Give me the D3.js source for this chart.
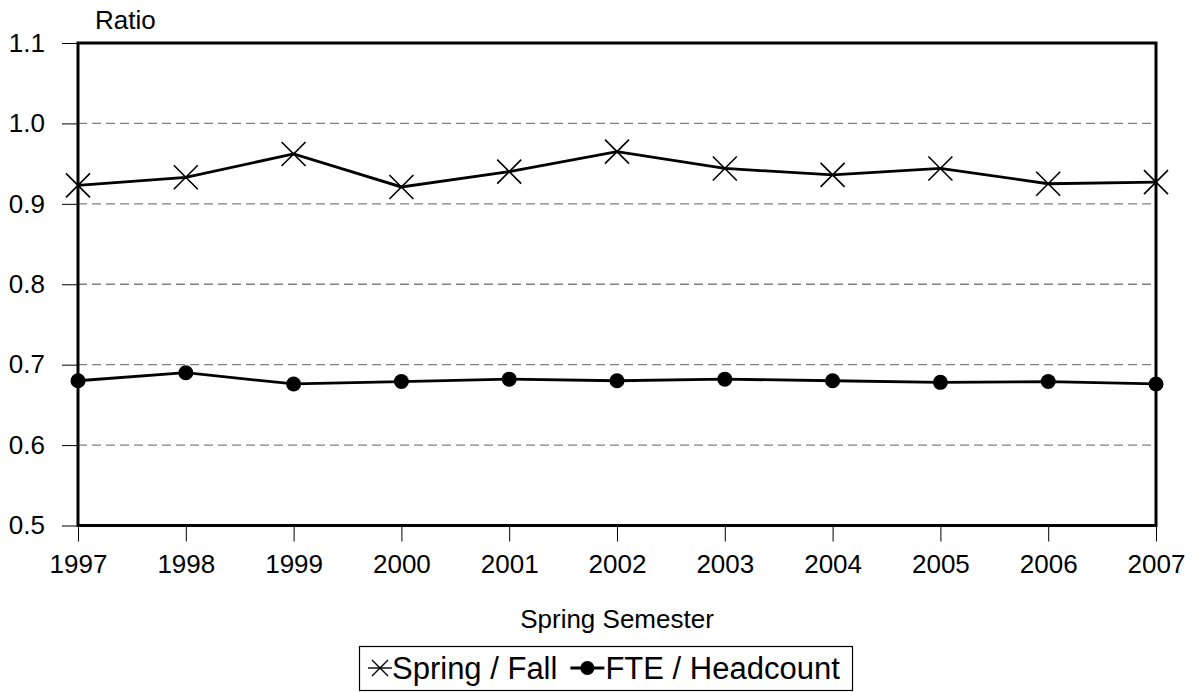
<!DOCTYPE html>
<html>
<head>
<meta charset="utf-8">
<script src="https://cdn.jsdelivr.net/npm/d3@7"></script>
<style>
  html, body { margin: 0; padding: 0; background: #fff; }
  svg { display: block; font-family: "Liberation Sans", Arial, sans-serif; }
</style>
</head>
<body>
<svg id="chart" width="1194" height="692"></svg>
<script>
const years = [1997, 1998, 1999, 2000, 2001, 2002, 2003, 2004, 2005, 2006, 2007];
const springFall = [0.923, 0.933, 0.962, 0.921, 0.940, 0.965, 0.944, 0.936, 0.944, 0.925, 0.927];
const fteHeadcount = [0.680, 0.690, 0.676, 0.679, 0.682, 0.680, 0.682, 0.680, 0.678, 0.679, 0.676];
const yTicks = [0.5, 0.6, 0.7, 0.8, 0.9, 1.0, 1.1];
const seriesNames = ["Spring / Fall", "FTE / Headcount"];
const yTitle = "Ratio";
const xTitle = "Spring Semester";

const svg = d3.select("#chart");
const L = 78, R = 1156, T = 43, B = 525.5;
const FONT = '"Liberation Sans", Arial, sans-serif';

const x = d3.scaleLinear().domain([1997, 2007]).range([L, R]);
const y = d3.scaleLinear().domain([0.5, 1.1]).range([B, T]);

// gridlines
svg.append("g").selectAll("line")
  .data(yTicks.filter(v => v > 0.5 && v < 1.1))
  .join("line")
  .attr("x1", L).attr("x2", R)
  .attr("y1", d => y(d)).attr("y2", d => y(d))
  .attr("stroke", "#808080").attr("stroke-width", 1.3)
  .attr("stroke-dasharray", "9,5");

// y axis
const yAxis = svg.append("g").attr("transform", `translate(${L},0)`)
  .call(d3.axisLeft(y).tickValues(yTicks).tickFormat(d3.format(".1f")).tickSize(16).tickPadding(17));
yAxis.select(".domain").remove();
yAxis.selectAll(".tick line").attr("stroke", "#000").attr("stroke-width", 1);
yAxis.selectAll(".tick text").attr("font-size", 26).attr("fill", "#000").attr("font-family", FONT);

// x axis
const xAxis = svg.append("g").attr("transform", `translate(0,${B})`)
  .call(d3.axisBottom(x).tickValues(years).tickFormat(d3.format("d")).tickSize(16).tickPadding(13));
xAxis.select(".domain").remove();
xAxis.selectAll(".tick line").attr("stroke", "#000").attr("stroke-width", 1);
xAxis.selectAll(".tick text").attr("font-size", 26).attr("fill", "#000").attr("font-family", FONT);

// frame
svg.append("rect").attr("x", L).attr("y", T).attr("width", R - L).attr("height", B - T)
  .attr("fill", "none").attr("stroke", "#000").attr("stroke-width", 3);

// titles
svg.append("text").attr("x", 95).attr("y", 29).attr("font-size", 26).text(yTitle);
svg.append("text").attr("x", (L + R) / 2).attr("y", 628).attr("text-anchor", "middle")
  .attr("font-size", 26).text(xTitle);

const line = d3.line().x((d, i) => x(years[i])).y(d => y(d));
const xMark = (cx, cy, s) => `M${cx - s},${cy - s}L${cx + s},${cy + s}M${cx - s},${cy + s}L${cx + s},${cy - s}`;

// Series 1: Spring / Fall
svg.append("path").datum(springFall).attr("d", line)
  .attr("fill", "none").attr("stroke", "#000").attr("stroke-width", 2.8);
svg.append("g").selectAll("path").data(springFall).join("path")
  .attr("d", (d, i) => xMark(x(years[i]), y(d), 12))
  .attr("stroke", "#000").attr("stroke-width", 1.6).attr("fill", "none");

// Series 2: FTE / Headcount
svg.append("path").datum(fteHeadcount).attr("d", line)
  .attr("fill", "none").attr("stroke", "#000").attr("stroke-width", 2.8);
svg.append("g").selectAll("circle").data(fteHeadcount).join("circle")
  .attr("cx", (d, i) => x(years[i])).attr("cy", d => y(d)).attr("r", 7.5).attr("fill", "#000");

// legend
const lg = svg.append("g");
const boxL = 359.5, boxR = 852.5, ly = 668, base = 679;
lg.append("rect").attr("x", boxL).attr("y", 646.5).attr("width", boxR - boxL).attr("height", 44)
  .attr("fill", "#fff").attr("stroke", "#000").attr("stroke-width", 1.2);
lg.append("path").attr("d", `M368,${ly}L392,${ly}`).attr("stroke", "#000").attr("stroke-width", 1.4);
lg.append("path").attr("d", xMark(380, ly, 8)).attr("stroke", "#000").attr("stroke-width", 1.4);
const t1 = lg.append("text").attr("x", 392).attr("y", base).attr("font-size", 31).text(seriesNames[0]);
const t1End = 392 + t1.node().getComputedTextLength();
const m2 = t1End + 13;
lg.append("path").attr("d", `M${m2},${ly}L${m2 + 34},${ly}`).attr("stroke", "#000").attr("stroke-width", 2.8);
lg.append("circle").attr("cx", m2 + 17).attr("cy", ly).attr("r", 7).attr("fill", "#000");
lg.append("text").attr("x", m2 + 35).attr("y", base).attr("font-size", 31).text(seriesNames[1]);
</script>
</body>
</html>
